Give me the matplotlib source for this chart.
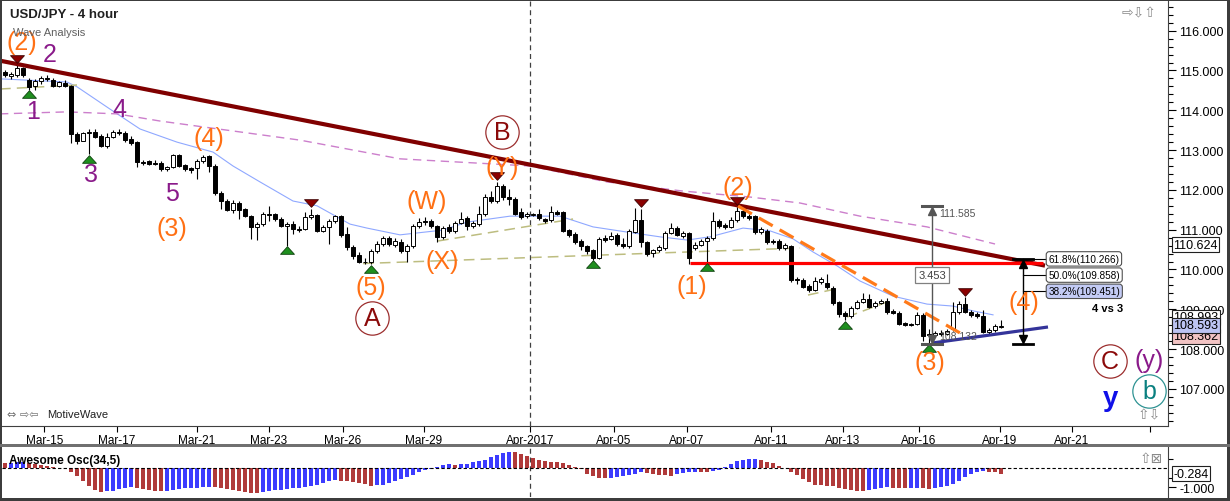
import numpy as np
import matplotlib
matplotlib.use('Agg')
import matplotlib.pyplot as plt
from matplotlib.patches import Rectangle
from matplotlib.path import Path
from matplotlib.transforms import blended_transform_factory, offset_copy
from matplotlib.ticker import MultipleLocator, FuncFormatter

plt.rcParams['font.family'] = ['Liberation Sans', 'DejaVu Sans']

W, H = 1230, 502

# ---------------- data (4-hour candles) ----------------
opens = [114.95, 114.86, 114.88, 115.06, 114.76, 114.61, 114.74, 114.80, 114.76, 114.61,
         114.69, 114.61, 113.40, 113.23, 113.43, 113.45, 113.35, 113.10, 113.33, 113.45,
         113.43, 113.27, 113.20, 112.70, 112.72, 112.68, 112.68, 112.53, 112.58, 112.87,
         112.63, 112.55, 112.55, 112.72, 112.85, 112.60, 111.92, 111.72, 111.50, 111.67,
         111.52, 111.35, 111.07, 111.14, 111.39, 111.39, 111.27, 111.09, 111.14, 111.02,
         111.02, 111.32, 111.37, 110.97, 111.07, 111.22, 111.34, 110.89, 110.57, 110.36,
         110.20, 110.19, 110.47, 110.64, 110.79, 110.62, 110.69, 110.46, 110.59, 111.09,
         111.22, 111.22, 111.09, 110.82, 111.07, 110.97, 111.17, 111.29, 111.09, 111.14,
         111.39, 111.82, 111.72, 112.10, 111.82, 111.77, 111.44, 111.35, 111.38, 111.39,
         111.27, 111.24, 111.44, 111.44, 110.99, 110.89, 110.71, 110.59, 110.49, 110.29,
         110.79, 110.77, 110.87, 110.64, 110.59, 110.94, 111.24, 110.69, 110.41, 110.49,
         110.54, 110.92, 111.04, 110.84, 110.92, 110.54, 110.61, 110.71, 110.79, 111.22,
         111.12, 111.07, 111.24, 111.47, 111.34, 111.34, 110.94, 110.97, 110.71, 110.71,
         110.54, 110.59, 109.76, 109.73, 109.58, 109.48, 109.68, 109.66, 109.53, 109.18,
         108.91, 108.83, 109.03, 109.18, 109.26, 109.08, 109.16, 109.21, 108.96, 108.91,
         108.66, 108.63, 108.63, 108.86, 108.38, 108.35, 108.40, 108.38, 108.50, 108.93,
         109.13, 108.93, 108.88, 108.83, 108.43, 108.48, 108.56]
highs = [115.00, 114.97, 115.16, 115.10, 114.80, 114.79, 114.86, 114.88, 114.80, 114.74,
         114.76, 114.64, 113.45, 113.45, 113.53, 113.53, 113.40, 113.43, 113.50, 113.53,
         113.48, 113.35, 113.22, 112.75, 112.76, 112.76, 112.72, 112.60, 112.90, 112.90,
         112.66, 112.58, 112.78, 112.88, 112.88, 112.65, 111.97, 111.77, 111.74, 111.72,
         111.55, 111.38, 111.20, 111.44, 111.60, 111.42, 111.32, 111.19, 111.21, 111.10,
         111.45, 111.52, 111.40, 111.12, 111.27, 111.37, 111.37, 111.06, 110.62, 110.44,
         110.29, 110.52, 110.72, 110.84, 110.84, 110.78, 110.76, 110.64, 111.15, 111.29,
         111.32, 111.27, 111.12, 111.10, 111.14, 111.22, 111.44, 111.35, 111.22, 111.60,
         111.90, 111.98, 112.20, 112.15, 112.03, 111.82, 111.55, 111.45, 111.42, 111.52,
         111.30, 111.59, 111.49, 111.47, 111.02, 110.93, 110.77, 110.62, 110.52, 110.82,
         110.87, 110.94, 110.92, 110.80, 111.02, 111.55, 111.53, 110.72, 110.52, 110.62,
         110.97, 111.17, 111.10, 110.97, 110.95, 110.70, 110.76, 110.84, 111.45, 111.27,
         111.17, 111.32, 111.585, 111.52, 111.40, 111.37, 111.07, 111.02, 110.76, 110.76,
         110.66, 110.61, 109.80, 109.78, 109.63, 109.81, 109.81, 109.88, 109.58, 109.22,
         108.95, 109.08, 109.23, 109.40, 109.38, 109.20, 109.26, 109.29, 109.00, 108.96,
         108.68, 108.66, 108.94, 108.90, 108.50, 108.46, 108.48, 108.50, 109.18, 109.20,
         109.30, 108.98, 108.93, 108.98, 108.53, 108.63, 108.73]
lows = [114.83, 114.78, 114.84, 114.84, 114.51, 114.51, 114.66, 114.74, 114.58, 114.58,
        114.58, 113.18, 113.15, 113.22, 112.90, 113.30, 113.07, 113.05, 113.30, 113.38,
        113.20, 113.13, 112.58, 112.63, 112.63, 112.63, 112.48, 112.48, 112.55, 112.58,
        112.48, 112.42, 112.27, 112.68, 112.45, 111.87, 111.52, 111.47, 111.42, 111.27,
        111.32, 110.77, 110.75, 111.09, 111.22, 111.22, 111.06, 110.59, 110.90, 110.94,
        110.98, 111.28, 110.94, 110.93, 110.64, 111.18, 110.82, 110.50, 110.26, 110.16,
        110.14, 110.13, 110.42, 110.60, 110.58, 110.56, 110.42, 110.19, 110.55, 111.05,
        111.12, 111.04, 110.70, 110.77, 110.92, 110.92, 111.14, 110.98, 111.04, 111.10,
        111.35, 111.68, 111.68, 111.75, 111.62, 111.37, 111.27, 111.30, 111.35, 111.25,
        111.17, 111.20, 111.36, 110.94, 110.82, 110.65, 110.50, 110.40, 110.24, 110.26,
        110.70, 110.74, 110.58, 110.55, 110.55, 110.92, 110.56, 110.34, 110.31, 110.44,
        110.50, 110.89, 110.83, 110.80, 110.14, 110.48, 110.58, 110.17, 110.75, 111.04,
        111.02, 111.04, 111.20, 111.30, 111.25, 110.90, 110.90, 110.64, 110.64, 110.50,
        110.50, 109.68, 109.63, 109.53, 109.44, 109.45, 109.63, 109.52, 109.10, 108.80,
        108.73, 108.78, 109.00, 109.15, 109.02, 109.04, 109.13, 108.88, 108.88, 108.60,
        108.58, 108.58, 108.60, 108.20, 108.132, 108.30, 108.33, 108.35, 108.45, 108.88,
        108.90, 108.80, 108.78, 108.40, 108.38, 108.43, 108.53]
closes = [114.88, 114.92, 115.06, 114.88, 114.59, 114.74, 114.81, 114.78, 114.61, 114.71,
          114.61, 113.40, 113.23, 113.43, 113.45, 113.33, 113.10, 113.33, 113.45, 113.43,
          113.25, 113.18, 112.70, 112.67, 112.65, 112.66, 112.53, 112.58, 112.87, 112.60,
          112.52, 112.50, 112.72, 112.83, 112.60, 111.92, 111.72, 111.50, 111.67, 111.50,
          111.35, 111.07, 111.14, 111.39, 111.37, 111.27, 111.09, 111.14, 111.02, 111.00,
          111.32, 111.37, 110.97, 111.07, 111.22, 111.34, 110.87, 110.57, 110.34, 110.19,
          110.18, 110.47, 110.64, 110.79, 110.64, 110.72, 110.46, 110.59, 111.09, 111.20,
          111.19, 111.09, 110.82, 111.04, 110.97, 111.17, 111.27, 111.09, 111.17, 111.39,
          111.82, 111.72, 112.10, 111.82, 111.77, 111.40, 111.32, 111.39, 111.40, 111.29,
          111.22, 111.44, 111.39, 110.97, 110.87, 110.69, 110.59, 110.46, 110.29, 110.77,
          110.74, 110.84, 110.64, 110.59, 110.97, 111.24, 110.69, 110.39, 110.49, 110.57,
          110.92, 111.04, 110.87, 110.92, 110.29, 110.61, 110.71, 110.79, 111.22, 111.09,
          111.07, 111.24, 111.47, 111.34, 111.29, 110.94, 111.02, 110.69, 110.69, 110.54,
          110.61, 109.73, 109.73, 109.56, 109.48, 109.71, 109.76, 109.56, 109.16, 108.88,
          108.83, 109.03, 109.18, 109.26, 109.06, 109.16, 109.21, 108.93, 108.91, 108.63,
          108.61, 108.61, 108.86, 108.33, 108.35, 108.40, 108.38, 108.45, 108.93, 109.13,
          108.93, 108.86, 108.83, 108.43, 108.48, 108.58, 108.59]

# Awesome oscillator (34,5)
ao_values = [0.28, 0.29, 0.31, 0.33, 0.30, 0.25, 0.19, 0.12, 0.06, 0.03,
             0.00, -0.17, -0.38, -0.65, -0.91, -1.12, -1.23, -1.21, -1.17, -1.10,
             -1.05, -1.01, -1.04, -1.09, -1.14, -1.18, -1.22, -1.20, -1.15, -1.10,
             -1.05, -1.03, -1.02, -1.00, -0.98, -1.01, -1.05, -1.09, -1.14, -1.19,
             -1.24, -1.28, -1.30, -1.27, -1.21, -1.16, -1.13, -1.11, -1.06, -1.02,
             -0.97, -0.91, -0.86, -0.77, -0.68, -0.64, -0.65, -0.68, -0.73, -0.77,
             -0.84, -0.91, -0.90, -0.86, -0.77, -0.68, -0.56, -0.45, -0.33, -0.21,
             -0.10, -0.02, 0.08, 0.17, 0.20, 0.17, 0.20, 0.25, 0.31, 0.36,
             0.46, 0.58, 0.70, 0.80, 0.86, 0.84, 0.75, 0.63, 0.53, 0.44,
             0.37, 0.33, 0.32, 0.28, 0.19, 0.09, -0.04, -0.28, -0.38, -0.50,
             -0.53, -0.52, -0.47, -0.42, -0.37, -0.30, -0.21, -0.25, -0.29, -0.33,
             -0.37, -0.38, -0.31, -0.23, -0.22, -0.19, -0.21, -0.22, -0.12, -0.07,
             0.05, 0.22, 0.36, 0.45, 0.49, 0.51, 0.46, 0.35, 0.28, 0.14,
             0.02, -0.17, -0.35, -0.56, -0.70, -0.86, -0.90, -0.92, -0.95, -1.03,
             -1.07, -1.12, -1.19, -1.22, -1.14, -1.08, -1.04, -1.01, -1.03, -1.05,
             -1.06, -1.05, -1.04, -1.06, -1.08, -1.02, -0.99, -0.92, -0.83, -0.66,
             -0.48, -0.31, -0.18, -0.13, -0.17, -0.22, -0.28]

# moving averages (bar index, price)
ma_fast_idx = [-0.83, 10.33, 12.0, 17.5, 22.5, 28.67, 34.67, 38.0, 42.5, 48.0, 52.0, 57.5,
               60.33, 65.83, 73.0, 77.0, 84.17, 92.5, 98.0, 103.67, 109.17, 113.67, 117.5,
               123.0, 127.5, 131.33, 134.67, 138.67, 142.5, 148.0, 153.67, 158.0, 161.33, 164.67]
ma_fast_val = [114.79, 114.71, 114.59, 114.03, 113.53, 113.20, 112.95, 112.60, 112.20, 111.72,
               111.60, 111.14, 111.04, 110.87, 110.99, 111.19, 111.34, 111.34, 111.07, 110.94,
               110.82, 110.74, 110.82, 111.04, 110.97, 110.77, 110.44, 110.09, 109.71, 109.33,
               109.13, 109.08, 108.96, 108.86]
ma_slow_idx = [-0.83, 10.33, 18.67, 25.83, 38.0, 49.17, 65.83, 87.5, 100.33, 113.0, 124.17,
               132.5, 142.5, 153.67, 165.0]
ma_slow_val = [113.91, 113.96, 113.91, 113.73, 113.48, 113.25, 112.78, 112.60, 112.20, 111.97,
               111.82, 111.67, 111.34, 111.07, 110.64]

# date axis
date_ticks = [6.58, 18.67, 32.0, 44.0, 56.25, 69.83, 87.5, 101.5, 113.67, 127.67, 139.67,
              152.33, 165.83, 177.83, 190.83]
date_labels = ['Mar-15', 'Mar-17', 'Mar-21', 'Mar-23', 'Mar-26', 'Mar-29', 'Apr-2017',
               'Apr-05', 'Apr-07', 'Apr-11', 'Apr-13', 'Apr-16', 'Apr-19', 'Apr-21', '']

# swing markers (bar indices)
swing_lows = [4, 14, 47, 61, 98, 117, 140, 154]
swing_highs = [2, 51, 82, 106, 122, 160]

# wave labels: text, bar index, price, colour
orange = '#ff7014'
purple = '#8a1a8a'
wave_text = ['(2)', '2', '1', '4', '3', '5', '(4)', '(3)', '(5)', '(W)', '(X)', '(Y)',
             '(1)', '(2)', '(3)', '(4)', '(y)']
wave_x = [2.83, 7.5, 4.67, 19.0, 14.33, 27.83, 34.0, 27.83, 61.0, 70.33, 72.83, 82.83,
          114.5, 122.17, 154.17, 169.83, 190.67]
wave_y = [115.72, 115.41, 113.98, 114.03, 112.40, 111.92, 113.30, 111.04, 109.56, 111.72,
          110.21, 112.58, 109.59, 112.07, 107.68, 109.18, 107.73]
wave_col = [orange, purple, purple, purple, purple, purple, orange, orange, orange, orange,
            orange, orange, orange, orange, orange, orange, purple]
circ_text = ['A', 'B', 'C', 'b']
circ_x = [61.17, 82.83, 184.17, 190.67]
circ_y = [108.78, 113.45, 107.70, 106.95]
circ_col = ['#8b0a0a', '#8b0a0a', '#8b0a0a', '#0a8080']

# drawing-tool levels
trend_idx = [-0.83, 173.33]
trend_val = [115.246, 110.097]
support_idx = [114.17, 173.0]
support_val = [110.16, 110.16]
orange_idx = [122.17, 159.17]
orange_val = [111.595, 108.404]
navy_idx = [154.5, 173.83]
navy_val = [108.152, 108.555]
olive_segments = [([-0.83, 12.0], [114.535, 114.635]),
                  ([59.67, 132.5], [110.15, 110.54]),
                  ([72.17, 94.67], [110.716, 111.268]),
                  ([133.83, 139.17], [109.358, 109.534]),
                  ([140.33, 147.0], [108.806, 109.183])]
swing_low_price = 108.132
swing_high_price = 111.585
measure_idx = 154.5
fib_idx = 169.67
fib_ratios = [0.618, 0.5, 0.382]

# ---------------------------------------------------------------------------
fig = plt.figure(figsize=(W / 100, H / 100), dpi=100)
fig.patch.set_facecolor('white')


def rect(x0, y0, x1, y1):
    return [x0 / W, 1 - y1 / H, (x1 - x0) / W, (y1 - y0) / H]


def fig_rect(x0, y0, x1, y1, color):
    fig.add_artist(Rectangle((x0 / W, 1 - y1 / H), (x1 - x0) / W, (y1 - y0) / H,
                             transform=fig.transFigure, color=color, zorder=10, lw=0))


ax = fig.add_axes(rect(2, 2, 1168, 427))
ax.set_xlim(-0.5, 193.83)
ax.set_ylim(106.067, 116.746)
ax.set_facecolor('white')

n = len(opens)
x = np.arange(n)
o = np.array(opens); c = np.array(closes); hi = np.array(highs); lo = np.array(lows)
assert len(o) == len(c) == len(hi) == len(lo) == len(ao_values) == n

# moving averages
ax.plot(ma_fast_idx, ma_fast_val, color='#8fa8ff', lw=0.8, zorder=2)
ax.plot(ma_slow_idx, ma_slow_val, color='#cc7fcc', lw=1.0, dashes=(6, 4), zorder=2)
for sx, sy in olive_segments:
    ax.plot(sx, sy, color='#bdbd80', lw=1.1, dashes=(7, 4), zorder=2)

# candles
up = c >= o
ax.vlines(x, lo, hi, color='black', lw=0.8, zorder=3)
body_b = np.minimum(o, c)
body_h = np.maximum(np.abs(c - o), 0.015)
ax.bar(x, body_h, bottom=body_b, width=0.7, color=np.where(up, 'white', 'black'),
       edgecolor='black', linewidth=0.7, zorder=4)

# trend / tool lines
ax.plot(trend_idx, trend_val, color='#800000', lw=3.0, zorder=5, solid_capstyle='butt')
ax.plot(support_idx, support_val, color='#ff0000', lw=2.3, zorder=5, solid_capstyle='butt')
ax.plot(orange_idx, orange_val, color='#ff7a1a', lw=2.3, dashes=(5, 2.5), zorder=5)
ax.plot(navy_idx, navy_val, color='#34349a', lw=2.3, zorder=5, solid_capstyle='butt')

# vertical date separator
ax.axvline(87.5, color='#404040', lw=0.9, dashes=(4, 3), zorder=1)

# swing markers
tri_up = Path([(-1, -0.55), (1, -0.55), (0, 0.55), (-1, -0.55)],
              [Path.MOVETO, Path.LINETO, Path.LINETO, Path.CLOSEPOLY])
tri_dn = Path([(-1, 0.55), (1, 0.55), (0, -0.55), (-1, 0.55)],
              [Path.MOVETO, Path.LINETO, Path.LINETO, Path.CLOSEPOLY])
t_low = offset_copy(ax.transData, fig=fig, x=0, y=-4.5, units='dots')
t_high = offset_copy(ax.transData, fig=fig, x=0, y=5.5, units='dots')
ax.plot(x[swing_lows], lo[swing_lows], ls='none', marker=tri_up, ms=10,
        mfc='#1f8f1f', mec='#0b3f0b', mew=0.6, transform=t_low, zorder=6)
ax.plot(x[swing_highs], hi[swing_highs], ls='none', marker=tri_dn, ms=10,
        mfc='#8b0000', mec='#3a0000', mew=0.6, transform=t_high, zorder=6)

# measurement tool (grey)
grey = '#555555'
ax.plot([measure_idx, measure_idx], [swing_low_price, swing_high_price], color=grey, lw=1.0, zorder=6)
for lvl in (swing_low_price, swing_high_price):
    ax.plot([measure_idx - 1.7, measure_idx + 1.7], [lvl, lvl], color=grey, lw=2.2, zorder=6)
ax.plot([measure_idx], [swing_high_price], marker='^', ms=6, color=grey, ls='none',
        transform=offset_copy(ax.transData, fig=fig, y=-5, units='dots'), zorder=6)
ax.plot([measure_idx], [swing_low_price], marker='v', ms=6, color=grey, ls='none',
        transform=offset_copy(ax.transData, fig=fig, y=5, units='dots'), zorder=6)
ax.text(measure_idx + 1.2, swing_high_price - 0.17, f'{swing_high_price:.3f}', fontsize=7.5,
        color=grey, ha='left', va='center', zorder=7)
ax.text(measure_idx + 1.2, swing_low_price + 0.2, f'{swing_low_price:.3f}', fontsize=7.5,
        color=grey, ha='left', va='center', zorder=7)
ax.text(measure_idx, 109.86, f'{swing_high_price - swing_low_price:.3f}', fontsize=8,
        color='#404040', ha='center', va='center', zorder=7,
        bbox=dict(boxstyle='square,pad=0.25', fc='white', ec='#808080', lw=0.9))

# fibonacci tool
rng = swing_high_price - swing_low_price
fib_levels = [swing_low_price + r * rng for r in fib_ratios]
ax.plot([fib_idx, fib_idx], [swing_low_price, fib_levels[0]], color='black', lw=1.0, zorder=6)
for lvl in (swing_low_price, fib_levels[0]):
    ax.plot([fib_idx - 1.7, fib_idx + 1.7], [lvl, lvl], color='black', lw=2.0, zorder=6)
ax.plot([fib_idx], [fib_levels[0]], marker='^', ms=6, color='black', ls='none',
        transform=offset_copy(ax.transData, fig=fig, y=-5, units='dots'), zorder=6)
ax.plot([fib_idx], [swing_low_price], marker='v', ms=6, color='black', ls='none',
        transform=offset_copy(ax.transData, fig=fig, y=5, units='dots'), zorder=6)
fib_fc = ['white', 'white', '#c3cbf5']
for r, lvl, fc in zip(fib_ratios, fib_levels, fib_fc):
    ax.plot([fib_idx, 173.5], [lvl, lvl], color='black', lw=0.8, zorder=6)
    ax.text(173.9, lvl, f'{r * 100:.1f}%({lvl:.3f})', fontsize=7.2, ha='left', va='center',
            zorder=7, bbox=dict(boxstyle='round,pad=0.22,rounding_size=0.3', fc=fc,
                                ec='#505050', lw=0.8))
ax.text(183.8, 109.03, '4 vs 3', fontsize=8, fontweight='bold', ha='center', va='center', zorder=7)

# wave labels
for t, wx, wy, col in zip(wave_text, wave_x, wave_y, wave_col):
    ax.text(wx, wy, t, fontsize=18, color=col, ha='center', va='center', zorder=7)
for t, wx, wy, col in zip(circ_text, circ_x, circ_y, circ_col):
    ax.text(wx, wy, t, fontsize=18, color=col, ha='center', va='center', zorder=7)
    ax.plot([wx], [wy], marker='o', ms=24, mfc='none', mec=col, mew=0.9, alpha=0.85, zorder=7)
ax.text(184.17, 106.78, 'y', fontsize=20, fontweight='bold', color='#1010e8',
        ha='center', va='center', zorder=7)

# axes styling
for s in ('left', 'top'):
    ax.spines[s].set_visible(False)
ax.spines['right'].set_color('#404040')
ax.spines['bottom'].set_color('#404040')
ax.yaxis.tick_right()
ax.set_yticks(np.arange(107, 117))
ax.yaxis.set_major_formatter(FuncFormatter(lambda v, p: f'{v:.3f}'))
ax.yaxis.set_minor_locator(MultipleLocator(0.2))
ax.tick_params(axis='y', which='major', direction='out', length=6, width=0.8, labelsize=9, pad=2)
ax.tick_params(axis='y', which='minor', direction='out', length=3.5, width=0.8)
ax.set_xticks(date_ticks)
ax.set_xticklabels(date_labels)
ax.tick_params(axis='x', direction='out', length=4, width=0.8, labelsize=8.5, pad=1.5)

# right-axis value boxes
bt = blended_transform_factory(ax.transAxes, ax.transData)
xb = 1.0 + 5 / 1166


def value_box(val, fc, dy=0.0, z=8):
    ax.text(xb, val + dy, f'{val:.3f}', transform=bt, fontsize=9, ha='left', va='center',
            clip_on=False, zorder=z,
            bbox=dict(boxstyle='square,pad=0.12', fc=fc, ec='#202020', lw=0.8))


value_box(110.624, 'white')
value_box(108.993, 'white', dy=-0.19, z=8)
value_box(108.362, '#f2c4c4', dy=-0.04, z=9)
value_box(108.593, '#bcc4f2', z=10)

# ---------------- oscillator panel ----------------
ax2 = fig.add_axes(rect(2, 448, 1168, 498))
ax2.set_xlim(-0.5, 193.83)
ax2.set_ylim(-1.51, 1.12)
ao = np.array(ao_values)
prev = np.concatenate([[ao[0] + 0.02], ao[:-1]])
bar_col = np.where(ao >= prev, '#3c3cff', '#b03a3a')
ax2.bar(x, ao, width=0.75, color=bar_col, zorder=2)
ax2.axhline(0, color='black', lw=0.8, dashes=(3, 2), zorder=3)
ax2.axvline(87.5, color='#404040', lw=0.9, dashes=(4, 3), zorder=1)
for s in ('left', 'top', 'bottom'):
    ax2.spines[s].set_visible(False)
ax2.spines['right'].set_color('#404040')
ax2.set_xticks([])
ax2.yaxis.tick_right()
ax2.set_yticks([-1.0])
ax2.set_yticklabels(['-1.000'])
ax2.set_yticks([0.5, -0.5], minor=True)
ax2.tick_params(axis='y', which='major', direction='out', length=6, width=0.8, labelsize=9, pad=2)
ax2.tick_params(axis='y', which='minor', direction='out', length=3.5, width=0.8)
bt2 = blended_transform_factory(ax2.transAxes, ax2.transData)
ax2.text(xb, ao[-1], f'{ao_values[-1] - 0.004:.3f}', transform=bt2, fontsize=9, ha='left',
         va='center', clip_on=False, zorder=8,
         bbox=dict(boxstyle='square,pad=0.12', fc='white', ec='#202020', lw=0.8))
ax2.text(0.006, 0.74, 'Awesome Osc(34,5)', transform=ax2.transAxes, fontsize=8.5,
         fontweight='bold', ha='left', va='center', zorder=5)

# ---------------- titles, icons, frame ----------------
fig.text(10 / W, 1 - 15 / H, 'USD/JPY - 4 hour', fontsize=9.5, fontweight='bold',
         color='#202020', ha='left', va='center')
fig.text(13 / W, 1 - 33 / H, 'Wave Analysis', fontsize=8, color='#606060', ha='left', va='center')
fig.text(7 / W, 1 - 415 / H, '⇔ ⇨⇦', fontsize=8, color='#707070', ha='left', va='center',
         family=['DejaVu Sans'])
fig.text(47 / W, 1 - 415 / H, 'MotiveWave', fontsize=8, color='#202020', ha='left', va='center')
fig.text(1122 / W, 1 - 13 / H, '⇨⇩⇧', fontsize=10, color='#8a8a8a', ha='left', va='center',
         family=['DejaVu Sans'])
fig.text(1138 / W, 1 - 415 / H, '⇧⇩', fontsize=10, color='#8a8a8a', ha='left', va='center',
         family=['DejaVu Sans'])
fig.text(1140 / W, 1 - 459 / H, '⇧⊠', fontsize=10, color='#8a8a8a', ha='left', va='center',
         family=['DejaVu Sans'])

fig_rect(0, 0, W, 2, '#3c3c3c')
fig_rect(0, 0, 2, H, '#3c3c3c')
fig_rect(1227, 0, W, H, '#3c3c3c')
fig_rect(0, 499, W, H, '#3c3c3c')
fig_rect(0, 445, W, 448, '#707070')

fig.savefig('out.png', dpi=100, facecolor='white')
